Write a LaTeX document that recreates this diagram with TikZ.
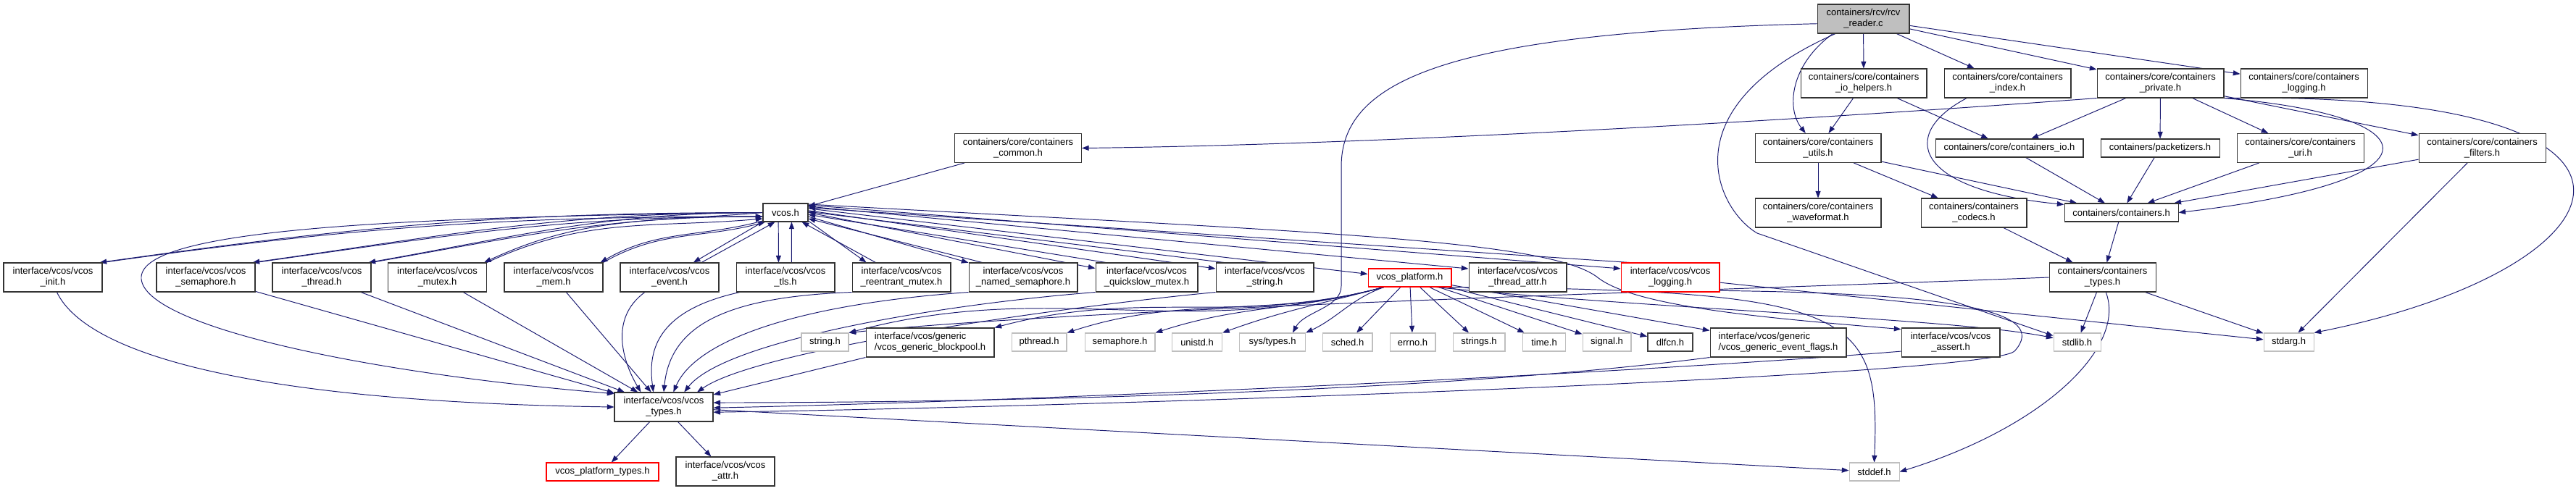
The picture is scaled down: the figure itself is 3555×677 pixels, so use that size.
\documentclass[tikz,border=0pt]{standalone}
\usepackage{fontspec}
\setmainfont{Liberation Sans}
\usetikzlibrary{arrows.meta}
\definecolor{edgeblue}{RGB}{25,25,112}
\definecolor{rootgray}{RGB}{191,191,191}
\definecolor{sysgray}{RGB}{191,191,191}
\definecolor{truncred}{RGB}{255,0,0}
\newcommand{\graphfont}{\fontsize{7.4pt}{8.6pt}\selectfont}
\pgfdeclarelayer{edges}
\pgfsetlayers{edges,main}
\tikzset{
  hdr/.style={
    rectangle,
    draw=black!80,
    fill=white,
    line width=0.6pt,
    inner sep=0pt,
    align=center,
    font=\graphfont
  },
  two/.style={hdr, minimum height=0.8cm},
  one/.style={hdr, minimum height=0.5cm},
  sys/.style={one, draw=sysgray},
  trunc/.style={draw=truncred},
  dep/.style={
    draw=edgeblue,
    line width=0.55pt,
    -{Triangle[length=5.5pt,width=4pt]}
  }
}

\begin{document}
\begin{tikzpicture}[x=0.02cm, y=0.02cm]
  \useasboundingbox (0,0) rectangle (3555,-677);

  % Containers side
  \node[two, fill=rootgray, minimum width=2.54cm] (reader) at (2571.5,-26) {containers/rcv/rcv\\\_reader.c};
  \node[two, minimum width=3.48cm] (iohelpers) at (2572,-115) {containers/core/containers\\\_io\_helpers.h};
  \node[two, minimum width=3.5cm] (index) at (2770.5,-115) {containers/core/containers\\\_index.h};
  \node[two, minimum width=3.5cm] (private) at (2981.5,-115) {containers/core/containers\\\_private.h};
  \node[two, minimum width=3.5cm] (clogging) at (3179.5,-115) {containers/core/containers\\\_logging.h};

  \node[two, minimum width=3.5cm] (common) at (1405,-204.5) {containers/core/containers\\\_common.h};
  \node[two, minimum width=3.48cm] (utils) at (2509,-204.5) {containers/core/containers\\\_utils.h};
  \node[one, minimum width=4.08cm] (cio) at (2773,-204.5) {containers/core/containers\_io.h};
  \node[one, minimum width=3.28cm] (packetizers) at (2981,-204.5) {containers/packetizers.h};
  \node[two, minimum width=3.5cm] (uri) at (3174.5,-204.5) {containers/core/containers\\\_uri.h};
  \node[two, minimum width=3.5cm] (filters) at (3425.5,-204.5) {containers/core/containers\\\_filters.h};

  \node[one, minimum width=1.24cm] (vcos) at (1084,-293.5) {vcos.h};
  \node[two, minimum width=3.48cm] (waveformat) at (2509,-294) {containers/core/containers\\\_waveformat.h};
  \node[two, minimum width=2.92cm] (codecs) at (2724,-294) {containers/containers\\\_codecs.h};
  \node[one, minimum width=3.14cm] (containers) at (2927.5,-293.5) {containers/containers.h};

  % VCOS headers
  \node[two, minimum width=2.72cm] (vinit) at (73,-383) {interface/vcos/vcos\\\_init.h};
  \node[two, minimum width=2.72cm] (vsem) at (284,-383) {interface/vcos/vcos\\\_semaphore.h};
  \node[two, minimum width=2.72cm] (vthread) at (444,-383) {interface/vcos/vcos\\\_thread.h};
  \node[two, minimum width=2.72cm] (vmutex) at (603.5,-383) {interface/vcos/vcos\\\_mutex.h};
  \node[two, minimum width=2.72cm] (vmem) at (764,-383) {interface/vcos/vcos\\\_mem.h};
  \node[two, minimum width=2.72cm] (vevent) at (924,-383) {interface/vcos/vcos\\\_event.h};
  \node[two, minimum width=2.72cm] (vtls) at (1084,-383) {interface/vcos/vcos\\\_tls.h};
  \node[two, minimum width=2.72cm] (vreent) at (1244,-383) {interface/vcos/vcos\\\_reentrant\_mutex.h};
  \node[two, minimum width=3.0cm] (vnamed) at (1412,-383) {interface/vcos/vcos\\\_named\_semaphore.h};
  \node[two, minimum width=2.82cm] (vqs) at (1582.5,-383) {interface/vcos/vcos\\\_quickslow\_mutex.h};
  \node[two, minimum width=2.7cm] (vstring) at (1745.5,-383) {interface/vcos/vcos\\\_string.h};
  \node[one, trunc, minimum width=2.3cm] (vplatform) at (1945.5,-383.5) {vcos\_platform.h};
  \node[two, minimum width=2.7cm] (vthreadattr) at (2094.5,-383) {interface/vcos/vcos\\\_thread\_attr.h};
  \node[two, trunc, minimum width=2.72cm] (vlogging) at (2305,-383) {interface/vcos/vcos\\\_logging.h};
  \node[two, minimum width=2.94cm] (ctypes) at (2901.5,-383) {containers/containers\\\_types.h};

  % System headers and generic
  \node[sys, minimum width=1.3cm] (stringh) at (1138.5,-472.5) {string.h};
  \node[two, align=left, minimum width=3.54cm] (blockpool) at (1283.5,-473) {interface/vcos/generic\\/vcos\_generic\_blockpool.h};
  \node[sys, minimum width=1.52cm] (pthread) at (1434,-472.5) {pthread.h};
  \node[sys, minimum width=1.94cm] (semaphoreh) at (1545.5,-472.5) {semaphore.h};
  \node[sys, minimum width=1.38cm] (unistd) at (1652,-472.5) {unistd.h};
  \node[sys, minimum width=1.82cm] (systypes) at (1756,-472.5) {sys/types.h};
  \node[sys, minimum width=1.38cm] (sched) at (1859.5,-472.5) {sched.h};
  \node[sys, minimum width=1.26cm] (errno) at (1949.5,-472.5) {errno.h};
  \node[sys, minimum width=1.44cm] (strings) at (2041,-472.5) {strings.h};
  \node[sys, minimum width=1.18cm] (time) at (2131,-472.5) {time.h};
  \node[sys, minimum width=1.34cm] (signal) at (2217.5,-472.5) {signal.h};
  \node[one, draw=black!75, line width=0.9pt, minimum width=1.24cm] (dlfcn) at (2305,-472.5) {dlfcn.h};
  \node[two, align=left, minimum width=3.76cm] (eventflags) at (2454,-473) {interface/vcos/generic\\/vcos\_generic\_event\_flags.h};
  \node[two, minimum width=2.72cm] (vassert) at (2692,-473) {interface/vcos/vcos\\\_assert.h};
  \node[sys, minimum width=1.3cm] (stdlib) at (2866.5,-472.5) {stdlib.h};
  \node[sys, minimum width=1.38cm] (stdarg) at (3158.5,-472.5) {stdarg.h};

  \node[two, minimum width=2.72cm] (vtypes) at (916,-562) {interface/vcos/vcos\\\_types.h};
  \node[one, trunc, minimum width=3.1cm] (vptypes) at (831.5,-651.5) {vcos\_platform\_types.h};
  \node[two, minimum width=2.72cm] (vattr) at (1001,-651) {interface/vcos/vcos\\\_attr.h};
  \node[sys, minimum width=1.38cm] (stddef) at (2586.5,-651.5) {stddef.h};

  \begin{pgfonlayer}{edges}
  \fill[white] (0,0) rectangle (3555,-677);

  % rcv_reader.c
  \draw[dep] (reader) -- (iohelpers);
  \draw[dep] (reader) -- (index);
  \draw[dep] (reader) -- (private);
  \draw[dep] (reader) -- (clogging);
  \draw[dep] (reader.206) .. controls (2470,-90) and (2465,-150) .. (utils.130);
  \draw[dep] (reader.208) .. controls (2300,-150) and (2370,-290) .. (2425,-322) -- (stdlib.165);
  \draw[dep] (reader.186) .. controls (2000,-45) and (1851,-110) .. (1851,-230)
    -- (1851,-395) .. controls (1851,-425) and (1800,-430) .. (systypes.25);

  % containers core
  \draw[dep] (iohelpers) -- (utils);
  \draw[dep] (iohelpers) -- (cio);
  \draw[dep] (index.200) .. controls (2620,-185) and (2640,-262) .. (containers.172);
  \draw[dep] (private.south west) .. controls (2500,-165) and (1900,-200) .. (common.east);
  \draw[dep] (private) -- (cio);
  \draw[dep] (private) -- (packetizers);
  \draw[dep] (private) -- (uri);
  \draw[dep] (private) -- (filters);
  \draw[dep] (private.south east) .. controls (3360,-160) and (3380,-250) .. (containers.east);
  \draw[dep] (private.south east) .. controls (3740,-125) and (3640,-370) .. (stdarg.north east);
  \draw[dep] (utils) -- (waveformat);
  \draw[dep] (utils) -- (codecs);
  \draw[dep] (utils) -- (containers);
  \draw[dep] (cio) -- (containers);
  \draw[dep] (packetizers) -- (containers);
  \draw[dep] (uri) -- (containers);
  \draw[dep] (filters) -- (containers);
  \draw[dep] (filters) -- (stdarg);
  \draw[dep] (common) -- (vcos);
  \draw[dep] (codecs) -- (ctypes);
  \draw[dep] (containers) -- (ctypes);
  \draw[dep] (ctypes) -- (stdlib);
  \draw[dep] (ctypes) -- (stdarg);
  \draw[dep] (ctypes.283) .. controls (2935,-480) and (2820,-590) .. (stddef.east);
  \draw[dep] (ctypes.west) .. controls (2400,-400) and (1500,-425) .. (stringh.north east);

  % vcos.h and back
  \draw[dep] (vcos.west) to[out=180,in=8] ([xshift=-0.08cm]vinit.north east);
  \draw[dep] (vinit.north east) to[out=8,in=180] (vcos.190);
  \draw[dep] (vcos.west) to[out=180,in=8] ([xshift=-0.08cm]vsem.north east);
  \draw[dep] (vsem.north east) to[out=8,in=180] (vcos.190);
  \draw[dep] (vcos.west) to[out=180,in=10] ([xshift=-0.08cm]vthread.north east);
  \draw[dep] (vthread.north east) to[out=10,in=180] (vcos.190);
  \draw[dep] (vcos.west) to[out=185,in=25] ([xshift=-0.08cm]vmutex.north east);
  \draw[dep] (vmutex.north east) to[out=25,in=185] (vcos.195);
  \draw[dep] (vcos.200) to[out=195,in=30] ([xshift=-0.08cm]vmem.north east);
  \draw[dep] (vmem.north east) to[out=30,in=195] (vcos.205);
  \draw[dep] (vcos.south west) -- (vevent.32);
  \draw[dep] (vevent.25) -- (vcos.222);
  \draw[dep] (vcos.233) -- (vtls.115);
  \draw[dep] (vtls.68) -- (vcos.303);
  \draw[dep] (vcos.340) -- (vreent.157);
  \draw[dep] (vreent.150) -- (vcos.330);
  \draw[dep] (vcos.350) -- (vnamed.165);
  \draw[dep] (vnamed.160) -- (vcos.345);
  \draw[dep] (vcos.east) -- (vqs.170);
  \draw[dep] (vqs.160) -- (vcos.355);
  \draw[dep] (vcos.5) -- (vstring.170);
  \draw[dep] (vstring.160) -- (vcos.2);
  \draw[dep] (vcos.10) -- (vplatform.175);
  \draw[dep] (vcos.15) -- (vthreadattr.170);
  \draw[dep] (vcos.18) -- (vlogging.170);
  \draw[dep] (vlogging.160) -- (vcos.12);
  \draw[dep] (vcos.20) .. controls (1800,-320) and (2140,-330) .. (2206,-384)
    .. controls (2260,-425) and (2450,-440) .. (vassert.165);
  \draw[dep] (vcos.west) .. controls (500,-300) and (190,-320) .. (195,-385)
    .. controls (200,-450) and (500,-515) .. (vtypes.165);

  % into vcos_types.h
  \draw[dep] (vinit.285) .. controls (120,-490) and (350,-555) .. (vtypes.180);
  \draw[dep] (vsem) -- (vtypes);
  \draw[dep] (vthread) -- (vtypes);
  \draw[dep] (vmutex) -- (vtypes);
  \draw[dep] (vmem) -- (vtypes);
  \draw[dep] (vevent.211) .. controls (840,-440) and (860,-500) .. (vtypes.147);
  \draw[dep] (vtls.198) .. controls (900,-430) and (895,-490) .. (vtypes.125);
  \draw[dep] (vreent.south west) .. controls (1000,-410) and (925,-450) .. (vtypes.90);
  \draw[dep] (vnamed.south west) .. controls (1100,-420) and (960,-470) .. (vtypes.57);
  \draw[dep] (vqs.south west) .. controls (1300,-420) and (1000,-470) .. (vtypes.36);
  \draw[dep] (vstring.south west) .. controls (1500,-420) and (1050,-480) .. (vtypes.24);
  \draw[dep] (blockpool.south west) -- (vtypes.14);
  \draw[dep] (eventflags.south west) .. controls (2000,-540) and (1400,-556) .. (vtypes.5);
  \draw[dep] (vassert.190) .. controls (2300,-512) and (1500,-552) .. (vtypes.359);
  \draw[dep] (vlogging.345) .. controls (2700,-405) and (2830,-430) .. (2780,-485)
    .. controls (2740,-520) and (1500,-562) .. (vtypes.354);

  % vcos_platform.h
  \draw[dep] (vplatform.200) to[out=195,in=15] (stringh.north east);
  \draw[dep] (vplatform.200) to[out=195,in=15] (blockpool.north east);
  \draw[dep] (vplatform.200) to[out=195,in=18] (pthread.north east);
  \draw[dep] (vplatform.200) to[out=195,in=18] (semaphoreh.north east);
  \draw[dep] (vplatform.200) to[out=195,in=20] (unistd.north east);
  \draw[dep] (vplatform.200) to[out=200,in=25] (systypes.north east);
  \draw[dep] (vplatform) -- (sched);
  \draw[dep] (vplatform) -- (errno);
  \draw[dep] (vplatform) -- (strings);
  \draw[dep] (vplatform) -- (time);
  \draw[dep] (vplatform) -- (signal);
  \draw[dep] (vplatform) -- (dlfcn);
  \draw[dep] (vplatform) -- (eventflags);
  \draw[dep] (vplatform.340) .. controls (2300,-428) and (2700,-440) .. (stdlib.170);
  \draw[dep] (vplatform.345) .. controls (2560,-400) and (2595,-430) .. (stddef.north);
  \draw[dep] (vlogging) -- (stdarg);

  % vcos_types.h
  \draw[dep] (vtypes) -- (vptypes);
  \draw[dep] (vtypes) -- (vattr);
  \draw[dep] (vtypes) -- (stddef);
  \end{pgfonlayer}
\end{tikzpicture}
\end{document}
